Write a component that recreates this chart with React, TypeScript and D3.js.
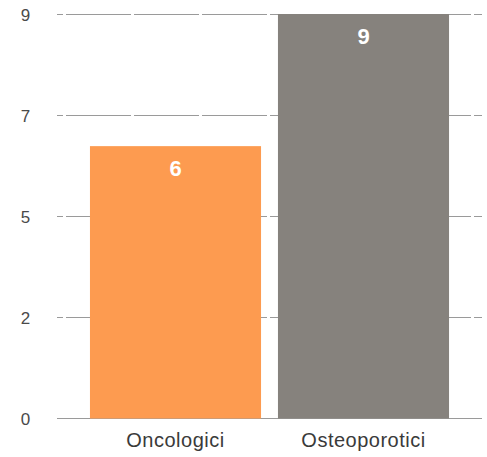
import React, { useRef, useEffect } from "react";
import * as d3 from "d3";

const categories = ["Oncologici", "Osteoporotici"];
const values = [6.06, 9];
const valueLabels = ["6", "9"];
const tickValues = [0, 2.25, 4.5, 6.75, 9];
const tickLabels = ["0", "2", "5", "7", "9"];
const barColors = ["#fd9b50", "#86827d"];

const App = () => {
    const svgRef = useRef(null);

    useEffect(() => {
        const width = 487;
        const height = 457;
        const font = "Liberation Sans, Arial, sans-serif";

        const svg = d3.select(svgRef.current).attr("width", width).attr("height", height);
        svg.selectAll("*").remove();

        const y = d3.scaleLinear().domain([0, 9]).range([418.5, 14]);
        const x = d3
            .scaleBand()
            .domain(categories)
            .range([58, 481])
            .paddingInner(0.09)
            .paddingOuter(0.17);

        // dashed gridlines
        svg.selectAll(".grid")
            .data(tickValues.slice(1))
            .enter()
            .append("line")
            .attr("class", "grid")
            .attr("x1", 57)
            .attr("x2", 482)
            .attr("y1", (d) => Math.round(y(d)) + 0.5)
            .attr("y2", (d) => Math.round(y(d)) + 0.5)
            .attr("stroke", "#9a9a9a")
            .attr("stroke-width", 1.2)
            .attr("stroke-dasharray", "65,3")
            .attr("stroke-dashoffset", 59);

        // baseline
        svg.append("line")
            .attr("x1", 57)
            .attr("x2", 482)
            .attr("y1", y(0))
            .attr("y2", y(0))
            .attr("stroke", "#9a9a9a")
            .attr("stroke-width", 1.2);

        svg.selectAll(".tick-label")
            .data(tickValues)
            .enter()
            .append("text")
            .attr("class", "tick-label")
            .attr("x", 25.5)
            .attr("y", (d) => y(d) + 6.5)
            .attr("text-anchor", "middle")
            .attr("font-family", font)
            .attr("font-size", 17)
            .attr("fill", "#4a4a4a")
            .text((d, i) => tickLabels[i]);

        const bars = svg.selectAll(".bar").data(categories).enter();

        bars.append("rect")
            .attr("class", "bar")
            .attr("x", (d) => x(d)!)
            .attr("y", (d, i) => y(values[i]))
            .attr("width", x.bandwidth())
            .attr("height", (d, i) => y(0) - y(values[i]))
            .attr("fill", (d, i) => barColors[i]);

        bars.append("text")
            .attr("x", (d) => x(d)! + x.bandwidth() / 2)
            .attr("y", (d, i) => y(values[i]) + 30)
            .attr("text-anchor", "middle")
            .attr("font-family", font)
            .attr("font-size", 22)
            .attr("font-weight", "bold")
            .attr("fill", "#fff")
            .text((d, i) => valueLabels[i]);

        bars.append("text")
            .attr("x", (d) => x(d)! + x.bandwidth() / 2)
            .attr("y", 447)
            .attr("text-anchor", "middle")
            .attr("font-family", font)
            .attr("font-size", 20)
            .attr("letter-spacing", 0.5)
            .attr("fill", "#3a3a3a")
            .text((d) => d);
    }, []);

    return (
        <div style={{ position: "absolute", left: 0, top: 0 }}>
            <svg ref={svgRef} style={{ display: "block" }}></svg>
        </div>
    );
};

export default App;
